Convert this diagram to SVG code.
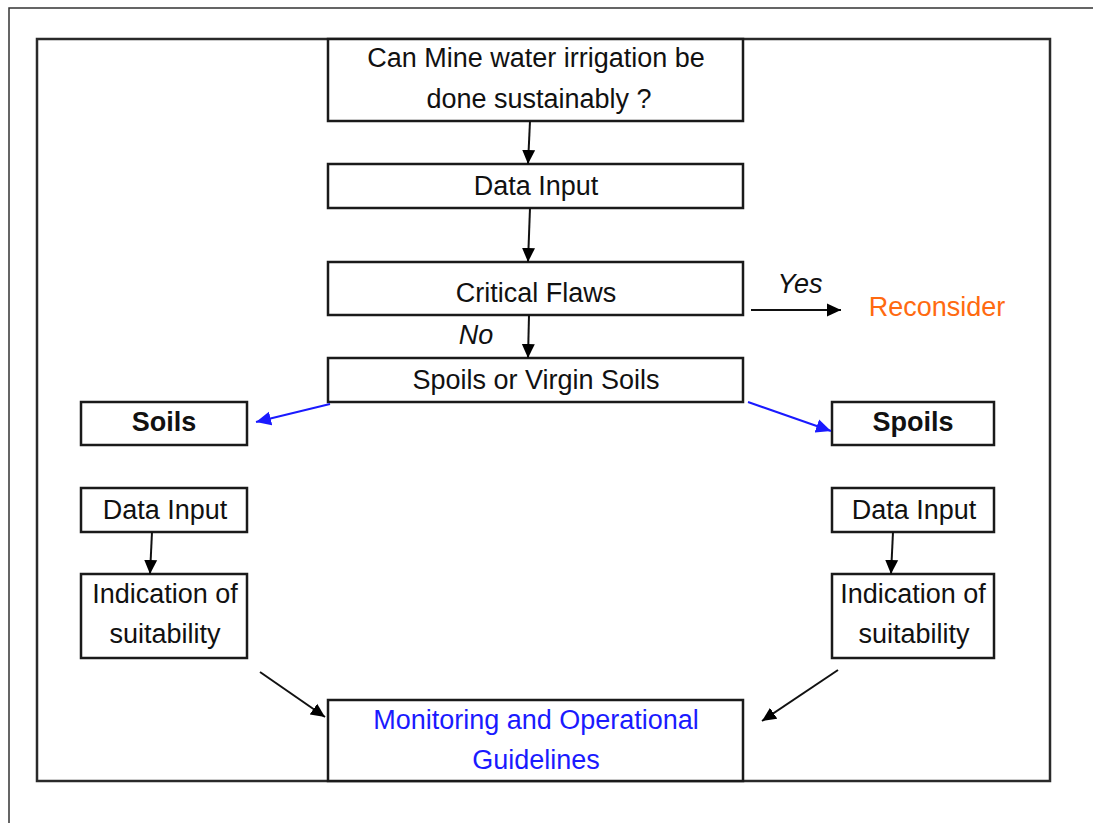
<svg xmlns="http://www.w3.org/2000/svg" width="1093" height="823" viewBox="0 0 1093 823">
<defs>
<style>
.box{fill:#fff;stroke:#1a1a1a;stroke-width:2.5}
.t{font-family:"Liberation Sans",Arial,sans-serif;font-size:27px;fill:#111;text-anchor:middle}
.b{font-weight:bold}
.i{font-style:italic}
.c{stroke:#111;stroke-width:2;fill:none}
.cb{stroke:#1a1aff;stroke-width:2;fill:none}
</style>
<marker id="ah" viewBox="0 0 14 14" refX="14" refY="7" markerWidth="14" markerHeight="14" markerUnits="userSpaceOnUse" orient="auto">
<path d="M0,0.5 L14,7 L0,13.5 z" fill="#000"/>
</marker>
<marker id="ahb" viewBox="0 0 14 14" refX="14" refY="7" markerWidth="15" markerHeight="15" markerUnits="userSpaceOnUse" orient="auto">
<path d="M0,0.5 L14,7 L0,13.5 z" fill="#1a1aff"/>
</marker>
</defs>
<rect width="1093" height="823" fill="#fff"/>
<path d="M9,823 L9,8 L1093,8" fill="none" stroke="#333" stroke-width="1.5"/>
<rect x="37" y="39" width="1013" height="742" fill="#fff" stroke="#2a2a2a" stroke-width="2.5"/>

<g id="n-question">
<rect class="box" x="328" y="39" width="415" height="82"/>
<text class="t" x="536" y="67">Can Mine water irrigation be</text>
<text class="t" x="539" y="108">done sustainably ?</text>
</g>
<g id="n-datainput">
<rect class="box" x="328" y="164" width="415" height="44"/>
<text class="t" x="536" y="195">Data Input</text>
</g>
<g id="n-critical">
<rect class="box" x="328" y="262" width="415" height="53"/>
<text class="t" x="536" y="302">Critical Flaws</text>
</g>
<g id="n-spoilsvirgin">
<rect class="box" x="328" y="358" width="415" height="44"/>
<text class="t" x="536" y="389">Spoils or Virgin Soils</text>
</g>
<g id="n-reconsider">
<text class="t" x="937" y="316" style="fill:#ff6a10">Reconsider</text>
</g>
<g id="n-soils">
<rect class="box" x="81" y="402" width="166" height="43"/>
<text class="t b" x="164" y="431">Soils</text>
</g>
<g id="n-spoils">
<rect class="box" x="832" y="402" width="162" height="43"/>
<text class="t b" x="913" y="431">Spoils</text>
</g>
<g id="n-datainput-l">
<rect class="box" x="81" y="488" width="166" height="44"/>
<text class="t" x="165" y="519">Data Input</text>
</g>
<g id="n-datainput-r">
<rect class="box" x="832" y="488" width="162" height="44"/>
<text class="t" x="914" y="519">Data Input</text>
</g>
<g id="n-indication-l">
<rect class="box" x="81" y="574" width="166" height="84"/>
<text class="t" x="165" y="603">Indication of</text>
<text class="t" x="165" y="643">suitability</text>
</g>
<g id="n-indication-r">
<rect class="box" x="832" y="574" width="162" height="84"/>
<text class="t" x="913" y="603">Indication of</text>
<text class="t" x="914" y="643">suitability</text>
</g>
<g id="n-monitoring">
<rect class="box" x="328" y="700" width="415" height="81"/>
<text class="t" x="536" y="729" style="fill:#1a1aff">Monitoring and Operational</text>
<text class="t" x="536" y="769" style="fill:#1a1aff">Guidelines</text>
</g>

<g id="connectors">
<line class="c" x1="530" y1="121" x2="528" y2="164" marker-end="url(#ah)"/>
<line class="c" x1="530" y1="208" x2="528" y2="262" marker-end="url(#ah)"/>
<line class="c" x1="529" y1="315" x2="528" y2="358" marker-end="url(#ah)"/>
<line class="c" x1="751" y1="310" x2="841" y2="310" marker-end="url(#ah)"/>
<text class="t i" x="800" y="293">Yes</text>
<text class="t i" x="476" y="344">No</text>
<line class="cb" x1="330" y1="404" x2="256" y2="422" marker-end="url(#ahb)"/>
<line class="cb" x1="748" y1="402" x2="831" y2="431" marker-end="url(#ahb)"/>
<line class="c" x1="152" y1="532" x2="150" y2="574" marker-end="url(#ah)"/>
<line class="c" x1="893" y1="532" x2="891" y2="574" marker-end="url(#ah)"/>
<line class="c" x1="260" y1="672" x2="325" y2="717" marker-end="url(#ah)"/>
<line class="c" x1="838" y1="670" x2="762" y2="721" marker-end="url(#ah)"/>
</g>
</svg>
